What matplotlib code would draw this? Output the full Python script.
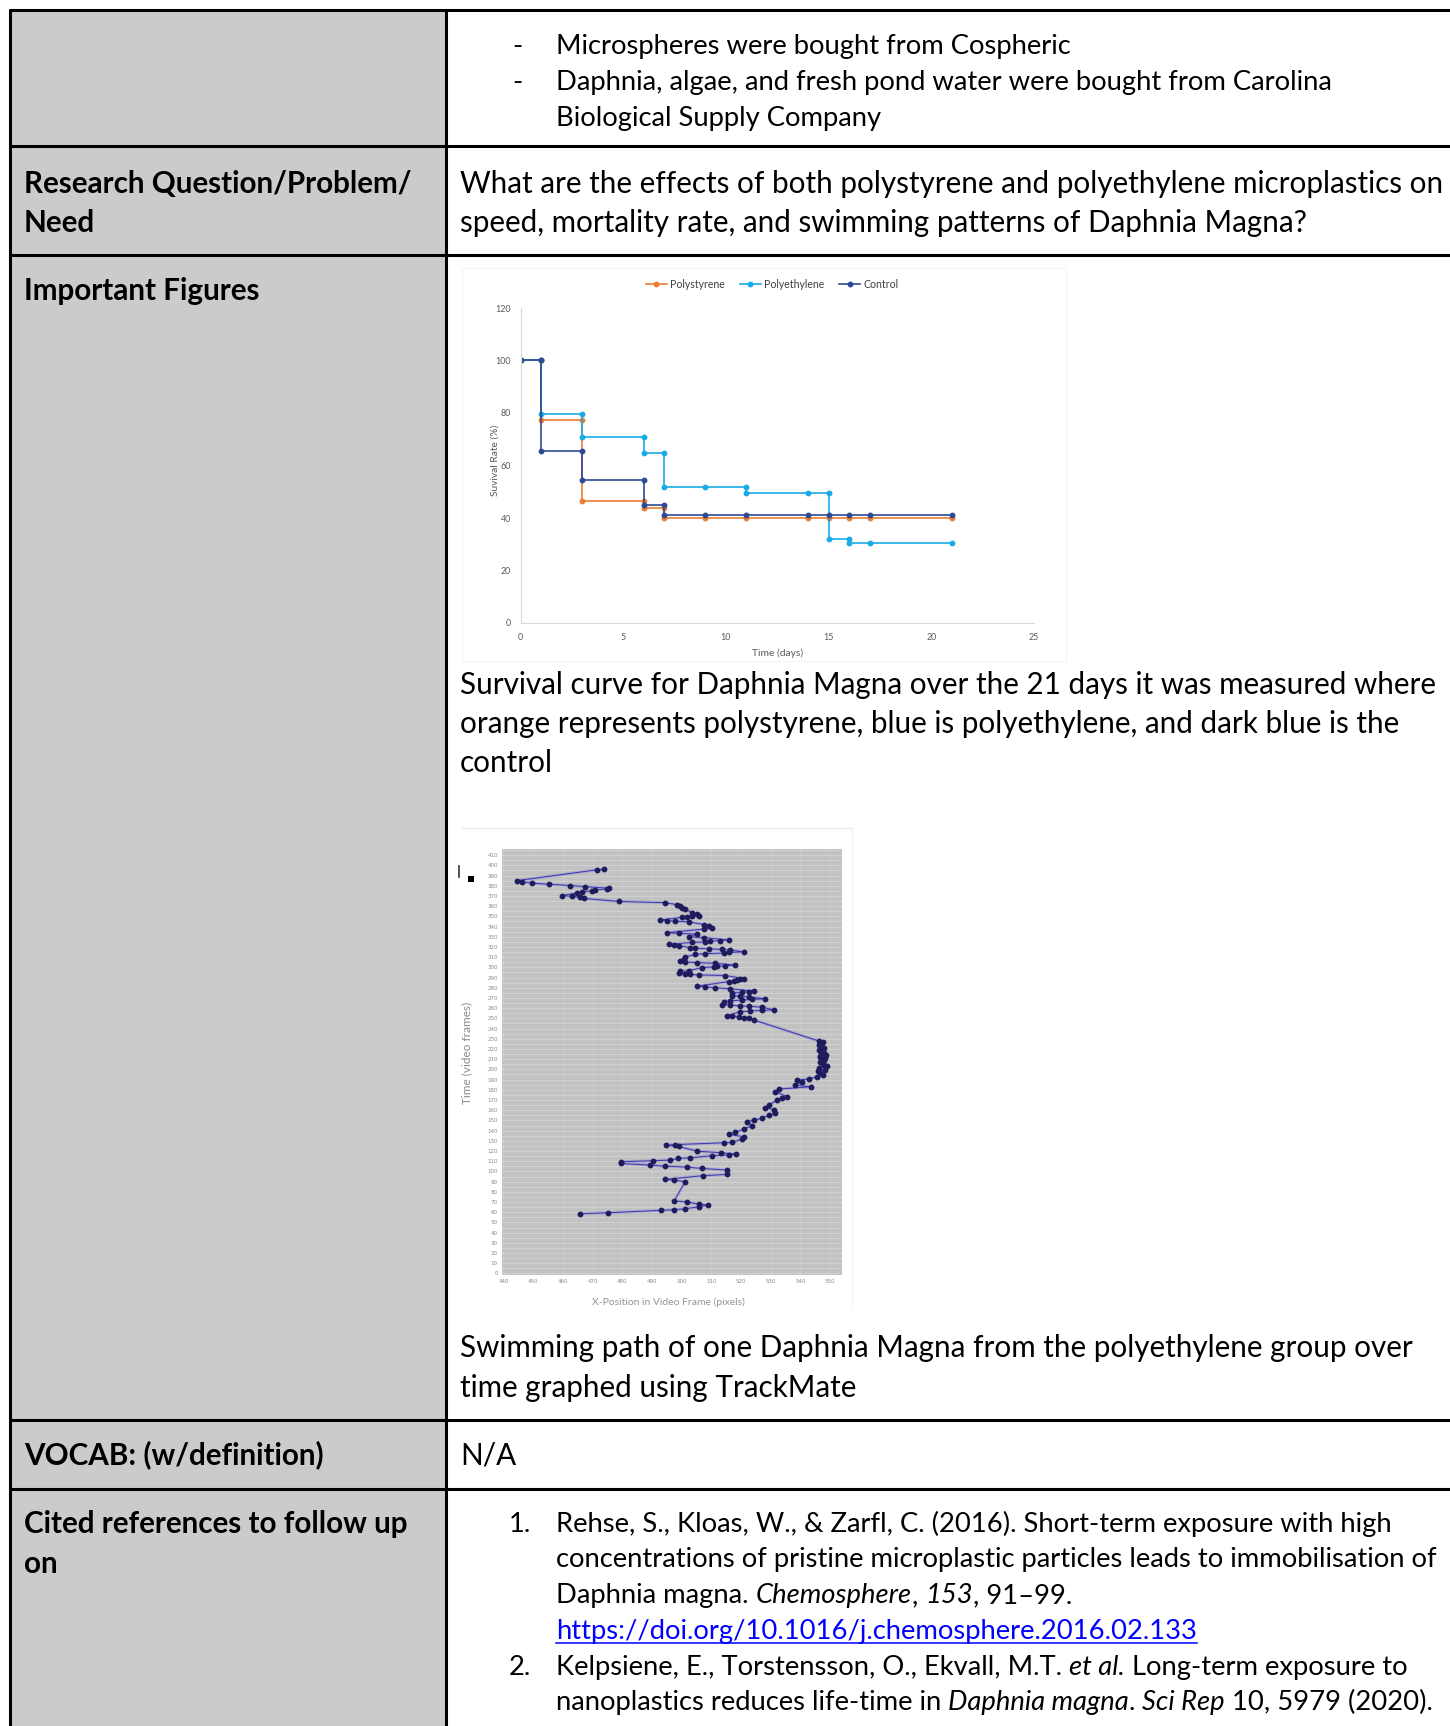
import matplotlib
matplotlib.use('Agg')
import matplotlib.pyplot as plt
from matplotlib.patches import Rectangle

W, H = 1450, 1726
FONT = ['Lato', 'DejaVu Sans']

#---SURVIVAL CURVE DATA (Excel step chart, duplicated points at each drop)
ps_days = [0, 1, 1, 3, 3, 6, 6, 7, 7, 9, 11, 14, 15, 16, 17, 21]
ps_rate = [100, 100, 77.3, 77.3, 46.3, 46.3, 43.7, 43.7, 39.9, 39.9, 39.9, 39.9, 39.9, 39.9, 39.9, 39.9]
pe_days = [0, 1, 1, 3, 3, 6, 6, 7, 7, 9, 11, 11, 14, 15, 15, 16, 16, 17, 21]
pe_rate = [100, 100, 79.8, 79.8, 70.7, 70.7, 64.6, 64.6, 51.7, 51.7, 51.7, 49.4, 49.4, 49.4, 32.1, 32.1, 30.4, 30.4, 30.4]
ct_days = [0, 1, 1, 3, 3, 6, 6, 7, 7, 9, 11, 14, 15, 16, 17, 21]
ct_rate = [100, 100, 65.7, 65.7, 54.5, 54.5, 45.0, 45.0, 41.2, 41.2, 41.2, 41.2, 41.2, 41.2, 41.2, 41.2]
series_names = ['Polystyrene', 'Polyethylene', 'Control']
series_colors = ['#ED7D31', '#1AAAE8', '#2F4A94']

#---SWIMMING PATH DATA (x position in pixels, time in frames)
swim_x = [465.6, 475.2, 493.0, 497.3, 501.1, 506.0, 508.9, 505.7, 501.8, 497.5,
          501.2, 497.3, 494.5, 507.1, 515.3, 515.3, 506.9, 501.8, 494.3, 489.2,
          479.7, 479.7, 490.3, 496.2, 498.8, 502.9, 510.2, 515.8, 518.3, 513.3,
          505.2, 499.0, 494.8, 497.9, 514.4, 517.0,
          520.3, 520.9, 515.8, 518.1, 520.9, 523.7, 522.0, 524.3, 527.1, 529.3,
          531.6, 531.0, 528.2, 529.3, 532.1, 533.8, 535.5, 531.6, 532.7, 543.4,
          538.3, 540.6, 538.9, 542.8, 545.6, 547.5, 546.7, 546.0, 548.4, 546.2,
          548.9, 547.9, 547.1, 546.7, 548.0, 548.4, 546.5, 546.7, 548.6, 547.9,
          547.0, 546.2, 547.8, 547.3, 546.4, 546.7, 547.5, 546.2,
          524.3, 522.6, 520.9, 519.2, 517.0, 515.3,
          519.8, 523.1, 527.1, 531.0,
          527.1, 522.6, 519.8, 516.4, 513.6,
          514.2, 516.4, 520.3, 523.7, 528.2,
          522.6, 519.8, 517.0,
          517.0, 520.3, 522.6, 524.3,
          516.4, 511.3, 508.0, 505.2,
          515.8, 517.5, 518.7, 519.8, 520.9,
          514.7, 505.7, 502.9, 501.2, 499.0,
          499.6, 502.4,
          506.9, 510.8, 511.9, 514.7, 518.1,
          511.3, 505.2, 501.2, 499.6,
          500.7, 501.2,
          504.6, 508.0, 514.2, 515.8, 520.9,
          516.4, 513.6, 509.1, 504.6, 502.9,
          499.0, 497.3, 495.6,
          503.5, 508.0, 509.7, 513.0, 515.8,
          507.4, 502.4,
          505.2, 499.0, 495.1,
          507.4, 510.2,
          509.1, 507.4,
          502.4, 497.9, 495.1, 492.8,
          500.1, 501.8, 503.5, 505.7,
          505.2, 503.5,
          501.2, 500.1,
          499.6, 498.4,
          494.5, 478.8, 467.0, 465.8, 463.0, 459.7, 464.7, 466.4,
          469.8, 470.9, 474.8, 475.4,
          467.5, 462.5, 455.2, 449.6, 446.2, 444.5,
          471.5, 473.7]
swim_t = [58.5, 59.5, 61.8, 62.4, 63.4, 65.4, 67.0, 68.0, 70.0, 71.2,
          89.9, 91.5, 92.2, 95.8, 97.1, 101.3, 102.9, 104.2, 105.2, 106.2,
          107.8, 109.5, 110.5, 111.1, 112.7, 113.4, 115.4, 116.2, 116.9, 118.3,
          119.9, 124.5, 125.8, 126.3, 128.1, 128.4,
          131.7, 134.0, 136.3, 138.2, 141.5, 144.8, 148.7, 150.3, 152.0, 155.2,
          156.9, 160.5, 162.4, 165.0, 169.9, 172.0, 173.2, 178.1, 180.7, 183.0,
          184.6, 187.9, 189.5, 190.5, 192.8, 194.5, 196.1, 198.0, 199.3, 201.0,
          203.0, 204.2, 206.0, 207.5, 209.0, 210.8, 212.0, 213.0, 214.5, 215.7,
          217.5, 219.0, 220.5, 222.2, 224.0, 225.5, 226.5, 227.8,
          248.4, 250.0, 250.8, 251.5, 252.0, 252.6,
          256.5, 257.2, 257.8, 258.4,
          261.0, 261.8, 262.4, 263.0, 263.6,
          266.5, 267.2, 268.0, 268.6, 269.2,
          271.0, 271.6, 272.2,
          274.8, 275.5, 276.2, 276.8,
          279.0, 280.0, 280.8, 281.5,
          286.0, 286.8, 287.6, 288.3, 289.0,
          292.0, 292.6, 293.1, 293.6, 294.2,
          296.0, 296.8,
          299.8, 300.4, 301.0, 301.6, 302.2,
          304.0, 304.6, 305.2, 305.8,
          308.5, 310.0,
          312.8, 313.4, 314.0, 314.6, 315.2,
          317.0, 317.6, 318.2, 318.8, 319.4,
          321.0, 321.8, 322.6,
          324.4, 325.0, 325.6, 326.2, 326.8,
          329.2, 330.0,
          332.6, 333.3, 334.0,
          337.5, 338.5,
          341.0, 342.0,
          344.6, 345.2, 345.8, 346.4,
          349.0, 349.6, 350.2, 350.8,
          352.6, 353.4,
          357.4, 358.2,
          360.6, 361.4,
          363.4, 364.6, 367.6, 368.8, 369.6, 370.4, 372.8, 373.8,
          375.2, 376.0, 376.8, 377.6,
          379.1, 380.2, 381.4, 382.6, 384.0, 385.0,
          395.6, 396.1]
swim_xticks = list(range(440, 551, 10))
swim_yticks = list(range(0, 411, 10))

#---DOCUMENT TEXT
row1_bullets = ['Microspheres were bought from Cospheric',
                'Daphnia, algae, and fresh pond water were bought from Carolina',
                'Biological Supply Company']
question = ['What are the effects of both polystyrene and polyethylene microplastics on',
            'speed, mortality rate, and swimming patterns of Daphnia Magna?']
caption1 = ['Survival curve for Daphnia Magna over the 21 days it was measured where',
            'orange represents polystyrene, blue is polyethylene, and dark blue is the',
            'control']
caption2 = ['Swimming path of one Daphnia Magna from the polyethylene group over',
            'time graphed using TrackMate']
ref_lines = [
    [('Rehse, S., Kloas, W., & Zarfl, C. (2016). Short-term exposure with high', 'n')],
    [('concentrations of pristine microplastic particles leads to immobilisation of', 'n')],
    [('Daphnia magna. ', 'n'), ('Chemosphere', 'i'), (', ', 'n'), ('153', 'i'), (', 91–99.', 'n')],
    [('https://doi.org/10.1016/j.chemosphere.2016.02.133', 'link')],
    [('Kelpsiene, E., Torstensson, O., Ekvall, M.T. ', 'n'), ('et al.', 'i'), (' Long-term exposure to', 'n')],
    [('nanoplastics reduces life-time in ', 'n'), ('Daphnia magna', 'i'), ('. ', 'n'),
     ('Sci Rep', 'i'), (' 10, 5979 (2020).', 'n')],
]

fig = plt.figure(figsize=(W / 100, H / 100), dpi=100)
page = fig.add_axes([0, 0, 1, 1])
page.set_xlim(0, W)
page.set_ylim(H, 0)
page.axis('off')

fig.canvas.draw()
rend = fig.canvas.get_renderer()


def text_w(s, size, weight='normal', style='normal'):
    t1 = page.text(0, 0, '|' + s + '|', fontsize=size, family=FONT, weight=weight, style=style)
    t2 = page.text(0, 0, '||', fontsize=size, family=FONT, weight=weight, style=style)
    w = t1.get_window_extent(rend).width - t2.get_window_extent(rend).width
    t1.remove()
    t2.remove()
    return w


# two text sizes in the document: paragraphs and the smaller list text
body = 18 * 980 / text_w(question[0], 18)
small = 18 * 882 / text_w(ref_lines[1][0][0], 18)


def put(x, y, s, size, weight='normal'):
    page.text(x, y, s, fontsize=size, family=FONT, weight=weight, va='baseline', ha='left')


def put_runs(x, y, parts, size):
    for s, st in parts:
        style = 'italic' if st == 'i' else 'normal'
        color = '#0000FF' if st == 'link' else 'black'
        page.text(x, y, s, fontsize=size, family=FONT, style=style, color=color,
                  va='baseline', ha='left')
        w = text_w(s, size, style=style)
        if st == 'link':
            page.plot([x, x + w], [y + 4, y + 4], color=color, lw=1.1)
        x += w


#---TABLE
page.add_patch(Rectangle((10, 10), 436, H - 10, facecolor='#cbcbcb', edgecolor='none', zorder=0))
lw_tab = 2.2
for yy in [10.5, 146.5, 255, 1419.5, 1489]:
    page.plot([9, W], [yy, yy], color='black', lw=lw_tab, solid_capstyle='butt')
for xx in [10, 446]:
    page.plot([xx, xx], [9, H], color='black', lw=lw_tab, solid_capstyle='butt')

# row 1
for i, s in enumerate(row1_bullets):
    yb = 54 + 36 * i
    if i < 2:
        put(512, yb, '-', small)
    put(556, yb, s, small)

# row 2
put(24, 193, 'Research Question/Problem/', body, weight='bold')
put(24, 232, 'Need', body, weight='bold')
for i, s in enumerate(question):
    put(460, 193 + 39 * i, s, body)

# row 3
put(24, 300, 'Important Figures', body, weight='bold')
for i, s in enumerate(caption1):
    put(460, 694 + 39 * i, s, body)
for i, s in enumerate(caption2):
    put(460, 1357 + 39.5 * i, s, body)

# row 4
put(24, 1464, 'VOCAB: (w/definition)', body, weight='bold')
put(460, 1464, 'N/A', body)

# row 5
put(24, 1533, 'Cited references to follow up', body, weight='bold')
put(24, 1573, 'on', body, weight='bold')
ref_y = [1532, 1567, 1603, 1639, 1675, 1710]
put(509, ref_y[0], '1.', small)
put(509, ref_y[4], '2.', small)
for yb, parts in zip(ref_y, ref_lines):
    put_runs(556, yb, parts, small)

#---FIGURE 1: SURVIVAL CURVE
page.add_patch(Rectangle((462, 268), 604, 393, facecolor='white', edgecolor='#f5f5f5', lw=0.8, zorder=1))
L, R, T, B = 520.5, 1034, 308, 623
ax1 = fig.add_axes([L / W, 1 - B / H, (R - L) / W, (B - T) / H])
for d, r, name, c in zip([ps_days, pe_days, ct_days], [ps_rate, pe_rate, ct_rate],
                         series_names, series_colors):
    ax1.plot(d, r, color=c, lw=1.2, marker='o', ms=3.2, label=name)
ax1.set_xlim(0, 25)
ax1.set_ylim(0, 120)
ax1.set_xticks(range(0, 26, 5))
ax1.set_yticks(range(0, 121, 20))
for sp in ['top', 'right']:
    ax1.spines[sp].set_visible(False)
for sp in ['left', 'bottom']:
    ax1.spines[sp].set_color('#d9d9d9')
    ax1.spines[sp].set_linewidth(0.8)
ax1.tick_params(length=0, labelsize=6.4, labelcolor='#595959', pad=7)
for lab in ax1.get_xticklabels() + ax1.get_yticklabels():
    lab.set_family(FONT)
ax1.legend(loc='center', bbox_to_anchor=(0.49, 1 + 24 / (B - T)), ncol=3, frameon=False,
           prop={'family': FONT, 'size': 7.6}, handlelength=2.0, handletextpad=0.3,
           columnspacing=1.4, labelcolor='#404040')
page.text(778, 653, 'Time (days)', fontsize=7.4, family=FONT, color='#595959', ha='center', va='center')
page.text(495, 460, 'Suvival Rate (%)', fontsize=7.4, family=FONT, color='#595959', ha='center',
          va='center', rotation=90)

#---FIGURE 2: SWIMMING PATH
page.plot([462, 852], [828, 828], color='#ececec', lw=1.0)
page.plot([852, 852], [828, 1305], color='#f4f4f4', lw=1.0)
page.plot([459, 459], [866, 877], color='#333333', lw=1.2)
page.add_patch(Rectangle((468, 876), 6, 6, facecolor='black', edgecolor='none'))
L2, R2, T2, B2 = 502, 842, 849, 1275
ax2 = fig.add_axes([L2 / W, 1 - B2 / H, (R2 - L2) / W, (B2 - T2) / H])
ax2.set_facecolor('#c2c2c2')
ax2.set_xlim(439.5, 554)
ax2.set_ylim(-1.5, 416)
for yy in range(0, 416, 5):
    ax2.axhline(yy, color='white', lw=0.5, alpha=0.35, zorder=0)
for xx in swim_xticks:
    ax2.axvline(xx, color='white', lw=0.4, alpha=0.2, zorder=0)
ax2.plot(swim_x, swim_t, color='#7b74e6', lw=2.2, alpha=0.35, zorder=2)
ax2.plot(swim_x, swim_t, color='#3b36a8', lw=0.7, zorder=3)
ax2.plot(swim_x, swim_t, ls='none', marker='o', ms=3.2, color='#1e1c5c', zorder=4)
ax2.set_xticks(swim_xticks)
ax2.set_yticks(swim_yticks)
ax2.tick_params(length=0, labelsize=4, labelcolor='#8a8a8a', pad=3)
for sp in ax2.spines.values():
    sp.set_visible(False)
page.text(467, 1053, 'Time (video frames)', fontsize=8.5, family=FONT, color='#8a8a8a',
          ha='center', va='center', rotation=90)
page.text(668, 1302, 'X-Position in Video Frame (pixels)', fontsize=7.5, family=FONT, color='#959595',
          ha='center', va='center')

fig.savefig('out.png', dpi=100)
